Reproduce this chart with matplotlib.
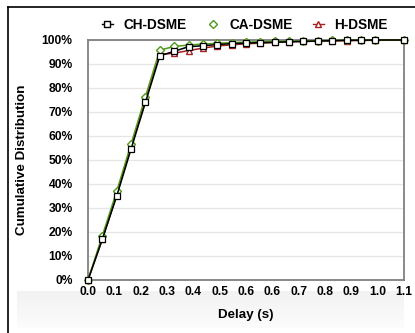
import numpy as np
import matplotlib
matplotlib.use("Agg")
import matplotlib.pyplot as plt
from matplotlib.lines import Line2D

plt.rcParams['font.family'] = ['Liberation Sans', 'DejaVu Sans']
plt.rcParams['font.weight'] = 'bold'

delay = [0.0, 0.05, 0.1, 0.15, 0.2, 0.25, 0.3, 0.35, 0.4, 0.45, 0.5, 0.55,
         0.6, 0.65, 0.7, 0.75, 0.8, 0.85, 0.9, 0.95, 1.0, 1.1]
ch_dsme = [0, 17, 35, 54.6, 74, 93.4, 95.3, 97.2, 97.6, 98.1, 98.5, 98.7,
           98.9, 99.0, 99.3, 99.4, 99.6, 99.7, 99.9, 99.9, 100, 100]
ca_dsme = [0, 18.5, 37, 56.7, 76.4, 95.8, 97.3, 97.9, 98.3, 98.6, 98.9, 99.1,
           99.3, 99.4, 99.5, 99.6, 99.7, 99.8, 99.9, 99.9, 100, 100]
h_dsme = [0, 17, 35.5, 55.5, 75, 94, 94.5, 95.6, 96.6, 97.5, 98.0, 98.4,
          98.7, 99.0, 99.2, 99.4, 99.5, 99.6, 99.7, 99.8, 99.9, 100]
xtick_labels = ["0.0", "0.1", "0.2", "0.3", "0.4", "0.5", "0.6", "0.6",
                "0.7", "0.8", "0.9", "1.0", "1.1"]
ytick_labels = ["0%", "10%", "20%", "30%", "40%", "50%", "60%", "70%",
                "80%", "90%", "100%"]

green = "#4f9a1a"
red = "#a52020"

fig = plt.figure(figsize=(4.15, 3.33), dpi=100)

# gray band behind x label
band = fig.add_axes([17/415, 1-328/333, (403-17)/415, (328-291)/333], zorder=-5)
grad = np.linspace(0, 1, 50).reshape(-1, 1)
band.imshow(grad, aspect='auto', cmap=matplotlib.colors.LinearSegmentedColormap.from_list(
    'g', ['#f2f2f2', '#fcfcfc']), extent=[0, 1, 0, 1])
band.axis('off')

ax = fig.add_axes([88/415, 1-280/333, (404-88)/415, (280-40)/333])
ax.plot(delay, h_dsme, color=red, lw=1.1, marker='^', ms=5, mfc='white',
        mec=red, mew=1.0, zorder=3, clip_on=False)
ax.plot(delay, ca_dsme, color=green, lw=1.1, marker='D', ms=4, mfc='white',
        mec=green, mew=1.0, zorder=4, clip_on=False)
ax.plot(delay, ch_dsme, color='black', lw=1.1, marker='s', ms=5, mfc='white',
        mec='black', mew=0.9, zorder=5, clip_on=False)

ax.set_xlim(0, 1.1)
ax.set_ylim(0, 100)
ax.set_xticks(np.linspace(0, 1.1, len(xtick_labels)))
ax.set_xticklabels(xtick_labels, fontsize=8.7, fontweight='bold')
ax.set_yticks(np.arange(0, 101, 10))
ax.set_yticklabels(ytick_labels, fontsize=8.7, fontweight='bold')
ax.tick_params(axis='both', length=0)
ax.tick_params(axis='y', pad=11)
ax.tick_params(axis='x', pad=4)
ax.yaxis.grid(True, color='#e6e6e6', lw=0.9)
ax.set_axisbelow(True)
for s in ax.spines.values():
    s.set_color('#808080')
    s.set_linewidth(1.3)

ax.set_xlabel("Delay (s)", fontsize=9.6, fontweight='bold', labelpad=8)
ax.set_ylabel("Cumulative Distribution", fontsize=9.6, fontweight='bold', labelpad=10)

handles = [
    Line2D([], [], color='black', lw=1.0, marker='s', ms=4.5, mfc='white', mec='black'),
    Line2D([], [], color=green, lw=0, marker='D', ms=4.5, mfc='white', mec=green),
    Line2D([], [], color=red, lw=1.0, marker='^', ms=4.5, mfc='white', mec=red),
]
fig.legend(handles, ["CH-DSME", "CA-DSME", "H-DSME"], loc='center',
           bbox_to_anchor=(245/415, 1-25/333), ncol=3, frameon=False,
           handlelength=0.8, handletextpad=0.8, columnspacing=1.5,
           prop={'size': 9.8, 'weight': 'bold'})

# figure frame (top and left visible)
fig.add_artist(Line2D([8/415, 8/415], [0, 1-7/333], color='black', lw=1.2,
                      transform=fig.transFigure))
fig.add_artist(Line2D([8/415, 1], [1-7/333, 1-7/333], color='black', lw=1.2,
                      transform=fig.transFigure))

fig.savefig("out.png", dpi=100)
